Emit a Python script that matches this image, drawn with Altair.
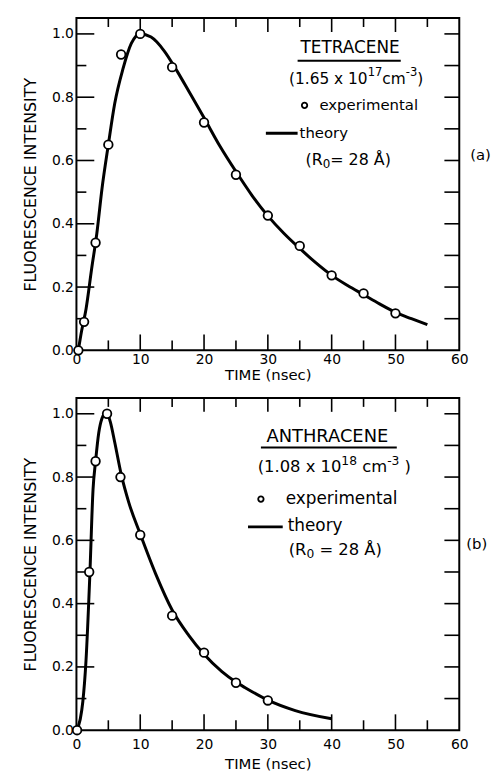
import altair as alt
import pandas as pd

# ---------------- data ----------------
# (a) Tetracene
tet_exp_t = [0.3, 1.2, 3, 5, 7, 10, 15, 20, 25, 30, 35, 40, 45, 50]
tet_exp_y = [0.0, 0.09, 0.34, 0.65, 0.935, 1.0, 0.895, 0.72, 0.555, 0.426, 0.33, 0.237, 0.18, 0.117]
tet_th_t = [0.3, 0.8, 1.5, 2.4, 3.2, 4, 5, 6, 7.3, 8.6, 10, 11.7, 13.8, 15.4, 18, 20, 22.5, 25, 27.5, 30, 32.5, 35, 37.5, 40, 42.5, 45, 47.5, 50, 52.5, 55]
tet_th_y = [0.0, 0.06, 0.13, 0.26, 0.37, 0.51, 0.65, 0.78, 0.89, 0.97, 1.0, 0.99, 0.945, 0.895, 0.805, 0.735, 0.645, 0.565, 0.49, 0.425, 0.37, 0.322, 0.277, 0.237, 0.205, 0.176, 0.147, 0.12, 0.1, 0.081]

# (b) Anthracene
ant_exp_t = [0.1, 2, 3, 4.8, 6.9, 10, 15, 20, 25, 30]
ant_exp_y = [0.0, 0.5, 0.85, 1.0, 0.8, 0.617, 0.362, 0.245, 0.15, 0.094]
ant_th_t = [0, 0.6, 1.0, 1.5, 2.1, 2.6, 3, 3.5, 4, 4.7, 5.3, 6, 7, 8.2, 10, 12.4, 15, 17.6, 20, 22.8, 25, 26.4, 30, 34.3, 40]
ant_th_y = [0.0, 0.035, 0.09, 0.22, 0.49, 0.76, 0.85, 0.94, 0.985, 1.005, 0.975, 0.91, 0.81, 0.72, 0.62, 0.495, 0.38, 0.30, 0.24, 0.185, 0.152, 0.135, 0.095, 0.062, 0.036]

x_label_vals = [0, 10, 20, 30, 40, 50, 60]
y_label_vals = [0.0, 0.2, 0.4, 0.6, 0.8, 1.0]
x_major = [10, 20, 30, 40, 50]
x_minor = [5, 15, 25, 35, 45, 55]
y_major = [0.2, 0.4, 0.6, 0.8, 1.0]
y_minor = [0.1, 0.3, 0.5, 0.7, 0.9]
y_right = [0.1, 0.2, 0.3, 0.4, 0.5, 0.6, 0.7, 0.8, 0.9, 1.0]

FONT = "DejaVu Sans"
W, H = 386, 335

xs = alt.Scale(domain=[0, 60], nice=False, zero=False)
ys = alt.Scale(domain=[0, 1.05], nice=False, zero=False)
one = alt.Data(values=[{"k": 1}])

# approximate DejaVu Sans advance widths (em)
GW = {"(": 0.39, ")": 0.39, ".": 0.318, " ": 0.318, "x": 0.592, "c": 0.55, "m": 0.974,
      "-": 0.361, "R": 0.695, "=": 0.838, "Å": 0.684}


def text_w(s, size):
    return sum(GW.get(ch, 0.636) for ch in s) * size


def encs(label_pad, title_pad):
    xaxis = alt.Axis(
        values=x_label_vals, ticks=False, domain=False, grid=False,
        labelFont=FONT, labelFontSize=14, labelPadding=label_pad, labelFlush=False,
        labelColor="black", title="TIME (nsec)", titleFont=FONT, titleFontSize=15,
        titleFontWeight="normal", titleColor="black", titlePadding=title_pad,
    )
    yaxis = alt.Axis(
        values=y_label_vals, format=".1f", ticks=False, domain=False, grid=False,
        labelFont=FONT, labelFontSize=14, labelPadding=3, labelFlush=False,
        labelColor="black", title="FLUORESCENCE INTENSITY", titleFont=FONT,
        titleFontSize=16, titleFontWeight="normal", titleColor="black", titlePadding=13,
    )
    return alt.X("t:Q", scale=xs, axis=xaxis), alt.Y("y:Q", scale=ys, axis=yaxis)


def ticks(X, Y):
    dxM = pd.DataFrame({"t": x_major})
    dxm = pd.DataFrame({"t": x_minor})
    dyM = pd.DataFrame({"y": y_major})
    dym = pd.DataFrame({"y": y_minor})
    dyr = pd.DataFrame({"y": y_right})
    r = dict(color="black", strokeWidth=1.6)
    return [
        alt.Chart(dyM).mark_rule(**r).encode(y=Y, x=alt.value(0), x2=alt.value(18)),
        alt.Chart(dym).mark_rule(**r).encode(y=Y, x=alt.value(0), x2=alt.value(10)),
        alt.Chart(dyr).mark_rule(**r).encode(y=Y, x=alt.value(W - 15), x2=alt.value(W)),
        alt.Chart(dxM).mark_rule(**r).encode(x=X, y=alt.value(H), y2=alt.value(H - 16)),
        alt.Chart(dxm).mark_rule(**r).encode(x=X, y=alt.value(H), y2=alt.value(H - 10)),
        alt.Chart(dxM).mark_rule(**r).encode(x=X, y=alt.value(0), y2=alt.value(14)),
        alt.Chart(dxm).mark_rule(**r).encode(x=X, y=alt.value(0), y2=alt.value(9)),
    ]


def txt(s, x, y, size=14, align="left"):
    return alt.Chart(one).mark_text(
        text=s, font=FONT, fontSize=size, align=align, baseline="middle", color="black"
    ).encode(x=alt.value(x), y=alt.value(y))


def rich(pieces, cx, y, size):
    """pieces: (text, scale, dy); centred on cx; leading spaces become offsets"""
    total = sum(text_w(s, size * sc) for s, sc, _ in pieces)
    x = cx - total / 2
    out = []
    for s, sc, dy in pieces:
        body = s.lstrip(" ")
        x += text_w(s[: len(s) - len(body)], size * sc)
        out.append(txt(body, x, y + dy, size * sc))
        x += text_w(body, size * sc)
    return out


def panel(exp_t, exp_y, th_t, th_y, ann):
    X, Y = encs(ann["lp"], ann["tp"])
    de = pd.DataFrame({"t": exp_t, "y": exp_y})
    dt = pd.DataFrame({"t": th_t, "y": th_y})
    line = alt.Chart(dt).mark_line(color="black", strokeWidth=3, interpolate="monotone").encode(x=X, y=Y)
    pts = alt.Chart(de).mark_point(
        shape="circle", filled=True, fill="white", stroke="black", strokeWidth=1.8, size=75, opacity=1
    ).encode(x=X, y=Y)

    fs = ann["fs"]
    layers = [line] + ticks(X, Y) + [pts]
    layers.append(txt(ann["name"], ann["name_x"], ann["name_y"], ann["name_fs"], "center"))
    layers.append(alt.Chart(one).mark_rule(color="black", strokeWidth=2).encode(
        x=alt.value(ann["ul"][0]), x2=alt.value(ann["ul"][1]), y=alt.value(ann["ul"][2])))
    layers += rich(ann["conc"], ann["conc_x"], ann["conc_y"], ann["conc_fs"])
    layers.append(alt.Chart(one).mark_point(
        shape="circle", filled=False, stroke="black", strokeWidth=1.8, size=30, opacity=1
    ).encode(x=alt.value(ann["o"][0]), y=alt.value(ann["o"][1])))
    layers.append(txt("experimental", ann["exp_x"], ann["o"][1], fs))
    layers.append(alt.Chart(one).mark_rule(color="black", strokeWidth=3).encode(
        x=alt.value(ann["ln"][0]), x2=alt.value(ann["ln"][1]), y=alt.value(ann["ln"][2])))
    layers.append(txt("theory", ann["th_x"], ann["th_y"], fs))
    layers += rich(ann["r0"], ann["r0_x"], ann["r0_y"], ann["r0_fs"])
    layers.append(txt(ann["tag"], ann["tag_x"], ann["tag_y"], 15))
    return alt.layer(*layers).properties(width=W, height=H)


ann_a = dict(
    lp=2, tp=1, fs=15,
    name="TETRACENE", name_fs=17, name_x=276, name_y=30, ul=(223, 327, 43),
    conc=[("(1.65 x 10", 1, 0), ("17", 0.75, -6), ("cm", 1, 0), ("-3", 0.75, -6), (")", 1, 0)],
    conc_fs=15.5, conc_x=282, conc_y=61,
    o=(230, 88), exp_x=245, ln=(191, 223, 116), th_x=225, th_y=116,
    r0=[("(R", 1, 0), ("0", 0.75, 4), ("= 28 Å)", 1, 0)], r0_fs=16, r0_x=274, r0_y=143,
    tag="(a)", tag_x=397, tag_y=138,
)
ann_b = dict(
    lp=7, tp=6, fs=17,
    name="ANTHRACENE", name_fs=18, name_x=253, name_y=39, ul=(186, 323, 50),
    conc=[("(1.08 x 10", 1, 0), ("18", 0.75, -6), (" cm", 1, 0), ("-3", 0.75, -6), (" )", 1, 0)],
    conc_fs=16.5, conc_x=260, conc_y=70,
    o=(186, 102), exp_x=211, ln=(173, 208, 130), th_x=213, th_y=129,
    r0=[("(R", 1, 0), ("0", 0.75, 4), (" = 28 Å)", 1, 0)], r0_fs=16.5, r0_x=261, r0_y=153,
    tag="(b)", tag_x=393, tag_y=147,
)

top = panel(tet_exp_t, tet_exp_y, tet_th_t, tet_th_y, ann_a)
bottom = panel(ant_exp_t, ant_exp_y, ant_th_t, ant_th_y, ann_b)

chart = (
    alt.vconcat(top, bottom, spacing=13)
    .properties(padding={"left": 13, "top": 5, "right": 0, "bottom": 0}, background="white")
    .configure_view(stroke="black", strokeWidth=2)
)

chart.save("out.html", embed_options={"renderer": "svg", "actions": False})
